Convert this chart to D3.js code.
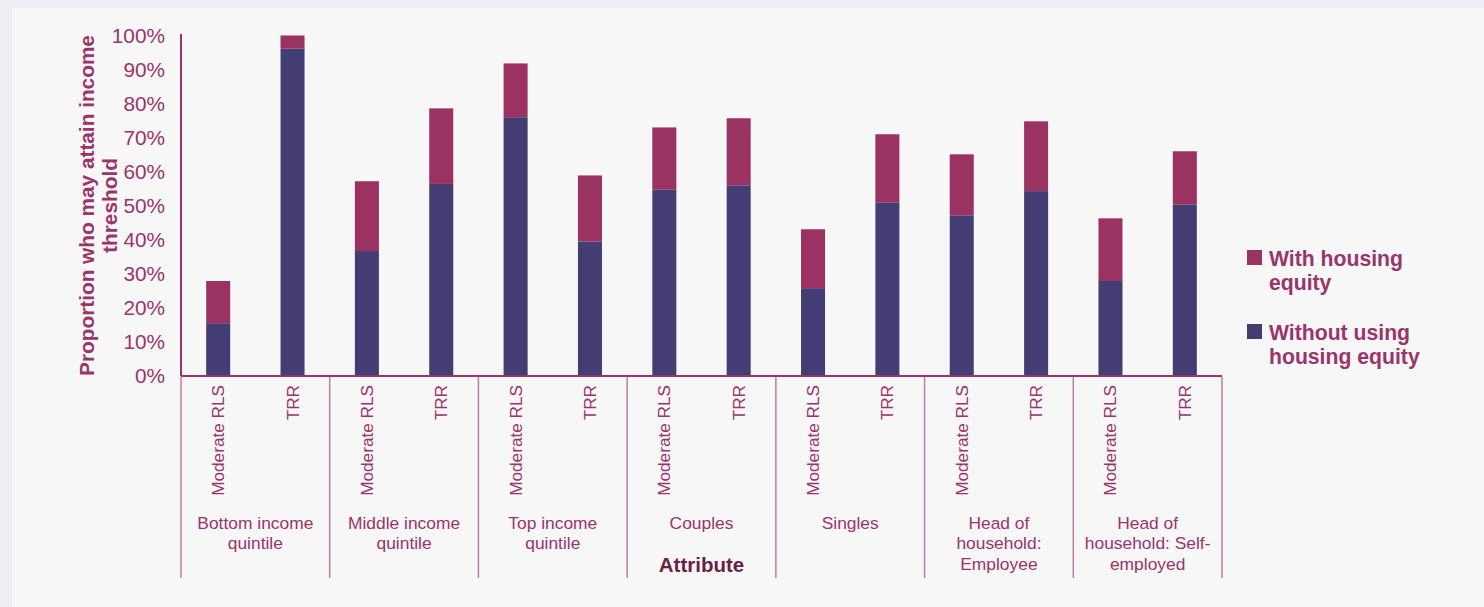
<!DOCTYPE html>
<html>
<head>
<meta charset="utf-8">
<script src="https://cdn.jsdelivr.net/npm/d3@7"></script>
<style>
  html, body { margin: 0; padding: 0; background: #eeedf3; }
  svg { display: block; font-family: "Liberation Sans", Arial, Helvetica, sans-serif; }
</style>
</head>
<body>
<svg id="chart" width="1484" height="607"></svg>
<script>
// Attribute groups, each split into two income measures
const groupLabels = [
  ["Bottom income", "quintile"],
  ["Middle income", "quintile"],
  ["Top income", "quintile"],
  ["Couples"],
  ["Singles"],
  ["Head of", "household:", "Employee"],
  ["Head of", "household: Self-", "employed"]
];
const measures = ["Moderate RLS", "TRR"];

// Percent who may attain the threshold, in group order (RLS, TRR, RLS, TRR, ...)
const withoutEquity = [15.5, 96.2, 36.7, 56.4, 76.0, 39.5, 54.8, 56.0, 25.8, 51.0, 47.2, 54.3, 27.9, 50.4];
const withEquity    = [27.9, 100.0, 57.2, 78.6, 91.8, 58.9, 73.0, 75.7, 43.1, 71.0, 65.1, 74.8, 46.3, 66.0];

const yTicks = [0, 10, 20, 30, 40, 50, 60, 70, 80, 90, 100];
const seriesNames = ["Without using housing equity", "With housing equity"];
const colors = { "Without using housing equity": "#433d74", "With housing equity": "#9a3262" };

const rows = [];
groupLabels.forEach((g, gi) => {
  measures.forEach((m, mi) => {
    const i = gi * measures.length + mi;
    rows.push({
      key: gi + "|" + m,
      group: gi,
      measure: m,
      "Without using housing equity": withoutEquity[i],
      "With housing equity": withEquity[i] - withoutEquity[i]
    });
  });
});

const svg = d3.select("#chart");
const maroon = "#9b3468";

// panel
svg.append("rect").attr("x", 12).attr("y", 8).attr("width", 1472).attr("height", 599).attr("fill", "#f7f7f7");

const plotLeft = 181, plotRight = 1222, plotTop = 35.5, plotBottom = 376;

const x = d3.scaleBand()
  .domain(rows.map(d => d.key))
  .range([plotLeft, plotRight])
  .paddingInner(0.677)
  .paddingOuter(0.3385);

const y = d3.scaleLinear().domain([0, 100]).range([plotBottom, plotTop]);

const stack = d3.stack().keys(seriesNames);
const stacked = stack(rows);

svg.append("g").selectAll("g")
  .data(stacked)
  .join("g")
  .attr("fill", s => colors[s.key])
  .selectAll("rect")
  .data(s => s)
  .join("rect")
  .attr("x", d => x(d.data.key))
  .attr("width", x.bandwidth())
  .attr("y", d => y(d[1]))
  .attr("height", d => y(d[0]) - y(d[1]));

// y axis
const yAxis = svg.append("g")
  .attr("transform", `translate(${plotLeft},0)`)
  .call(d3.axisLeft(y).tickValues(yTicks).tickFormat(d => d + "%").tickSize(0).tickPadding(16));
yAxis.select(".domain").attr("stroke", maroon).attr("stroke-width", 2).attr("d", `M0,${plotBottom}V${plotTop - 1.5}`);
yAxis.selectAll("text").attr("fill", maroon).attr("font-size", 20.8).attr("font-family", null);

// x axis with rotated measure labels
const xAxis = svg.append("g")
  .attr("transform", `translate(0,${plotBottom})`)
  .call(d3.axisBottom(x).tickSize(0).tickFormat(k => k.split("|")[1]));
xAxis.select(".domain").attr("stroke", maroon).attr("stroke-width", 2).attr("d", `M${plotLeft},0H${plotRight}`);
xAxis.selectAll("text")
  .attr("fill", maroon)
  .attr("font-size", 17.2)
  .attr("font-family", null)
  .attr("transform", "rotate(-90)")
  .attr("x", -9)
  .attr("y", 0)
  .attr("dy", "0.35em")
  .attr("text-anchor", "end");

// group dividers and labels
const groupEdge = gi => gi === groupLabels.length ? plotRight : x(rows[gi * measures.length].key) - x.step() * x.paddingOuter();
const dividers = d3.range(groupLabels.length + 1);
svg.append("g").selectAll("line")
  .data(dividers)
  .join("line")
  .attr("x1", gi => groupEdge(gi)).attr("x2", gi => groupEdge(gi))
  .attr("y1", plotBottom + 1).attr("y2", 578)
  .attr("stroke", "#c47ba0").attr("stroke-width", 1.5);

svg.append("g").selectAll("text")
  .data(groupLabels)
  .join("text")
  .attr("x", (g, gi) => (groupEdge(gi) + groupEdge(gi + 1)) / 2)
  .attr("y", 529)
  .attr("text-anchor", "middle")
  .attr("fill", maroon)
  .attr("font-size", 17.4)
  .selectAll("tspan")
  .data(g => g)
  .join("tspan")
  .attr("x", function () { return d3.select(this.parentNode).attr("x"); })
  .attr("dy", (t, i) => i === 0 ? 0 : 20.3)
  .text(t => t);

// x axis title
svg.append("text")
  .attr("x", (plotLeft + plotRight) / 2)
  .attr("y", 572)
  .attr("text-anchor", "middle")
  .attr("fill", "#6b1f47")
  .attr("font-weight", "bold")
  .attr("font-size", 20.5)
  .text("Attribute");

// y axis title
const yTitle = svg.append("text")
  .attr("transform", "translate(93.5,205.5) rotate(-90)")
  .attr("text-anchor", "middle")
  .attr("fill", maroon)
  .attr("font-weight", "bold")
  .attr("font-size", 20.8);
yTitle.append("tspan").attr("x", 0).attr("y", 0).text("Proportion who may attain income");
yTitle.append("tspan").attr("x", 0).attr("y", 23.5).text("threshold");

// legend
const legendItems = [
  { name: "With housing equity", lines: ["With housing", "equity"] },
  { name: "Without using housing equity", lines: ["Without using", "housing equity"] }
];
const legend = svg.append("g").selectAll("g")
  .data(legendItems)
  .join("g")
  .attr("transform", (d, i) => `translate(1247,${250 + i * 74})`);
legend.append("rect").attr("width", 15).attr("height", 15).attr("fill", d => colors[d.name]);
legend.append("text")
  .attr("fill", maroon)
  .attr("font-weight", "bold")
  .attr("font-size", 21.2)
  .selectAll("tspan")
  .data(d => d.lines)
  .join("tspan")
  .attr("x", 22)
  .attr("y", (t, i) => 16 + i * 24)
  .text(t => t);
</script>
</body>
</html>
